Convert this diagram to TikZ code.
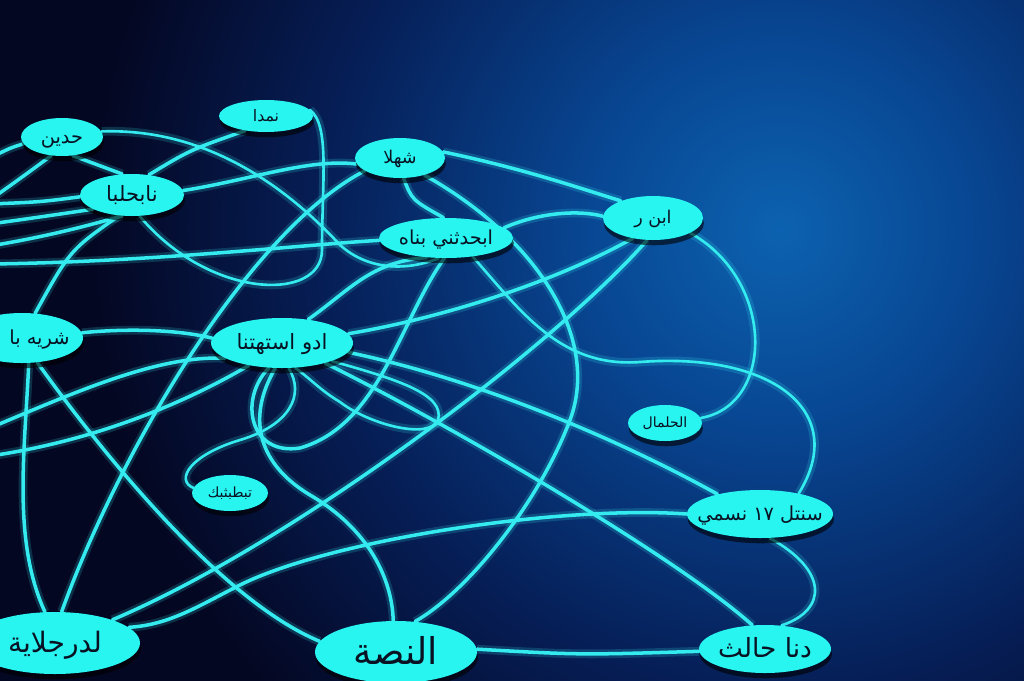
\documentclass[tikz,border=0pt]{standalone}
\usepackage{fontspec}
\usetikzlibrary{shapes.geometric,shadows}
\newfontfamily\arabicfont[Script=Arabic]{DejaVu Sans}
\TeXXeTstate=1

\definecolor{bgdeep}{RGB}{4,7,34}
\definecolor{bgmid}{RGB}{6,30,86}
\definecolor{glowA}{RGB}{12,98,176}
\definecolor{glowB}{RGB}{8,70,146}
\definecolor{nodecyan}{RGB}{40,244,240}
\definecolor{linkcyan}{RGB}{52,236,240}
\definecolor{inkdark}{RGB}{8,18,34}

\pgfdeclarelayer{back}
\pgfdeclarelayer{links}
\pgfsetlayers{back,links,main}
\pgfdeclareradialshading{glowshade}{\pgfpoint{0bp}{0bp}}{color(0bp)=(glowA); color(6bp)=(glowB); color(14bp)=(bgmid); color(21bp)=(bgdeep); color(25bp)=(bgdeep); color(50bp)=(bgdeep)}

\newcommand{\arlabel}[1]{\makebox[0pt]{\raisebox{-0.6ex}[0pt][0pt]{\beginR#1\endR}}}

\tikzset{
  topic/.style={ellipse, fill=nodecyan, inner sep=0pt, text=inkdark,
    drop shadow={shadow xshift=0.5pt, shadow yshift=-3pt, opacity=0.6, fill=black}},
  oval/.style 2 args={minimum width=#1*0.02cm, minimum height=#2*0.02cm},
  fs/.style={font=\arabicfont\fontsize{#1}{#1}\selectfont},
  link/.style={draw=linkcyan, line width=2pt, line cap=round,
    preaction={draw=linkcyan, line width=5pt, opacity=0.18}},
  thin link/.style={link, line width=1.5pt}
}

\begin{document}
\begin{tikzpicture}[x=0.02cm, y=0.02cm]
    \useasboundingbox (0,-680) rectangle (1024,0);

    % background
    \begin{pgfonlayer}{back}
        \fill[bgdeep] (-20,-700) rectangle (1044,20);
        \begin{scope}
            \clip (-20,-700) rectangle (1044,20);
            \shade[shading=glowshade] (780,-230) circle (820);
        \end{scope}
    \end{pgfonlayer}

    % topics
    \node[topic, oval={82}{38},  fs=11] (hadin)    at (62,-137)  {\arlabel{حدين}};
    \node[topic, oval={94}{32},  fs=9]  (namda)    at (266,-116) {\arlabel{نمدا}};
    \node[topic, oval={104}{42}, fs=12] (thalm)    at (132,-195) {\arlabel{نابحلبا}};
    \node[topic, oval={90}{40},  fs=10] (shahla)   at (400,-158) {\arlabel{شهلا}};
    \node[topic, oval={134}{40}, fs=11] (abhad)    at (446,-238) {\arlabel{ابحدثني بناه}};
    \node[topic, oval={100}{44}, fs=10] (ibnr)     at (653,-218) {\arlabel{ابن ر}};
    \node[topic, oval={122}{50}, fs=11] (shariyah) at (22,-338)  {\makebox[0pt]{\hspace{0.7cm}\arlabel{شريه با}}};
    \node[topic, oval={142}{50}, fs=12] (adu)      at (282,-343) {\arlabel{ادو استهتنا}};
    \node[topic, oval={74}{36},  fs=8]  (halmal)   at (665,-423) {\arlabel{الحلمال}};
    \node[topic, oval={76}{36},  fs=8]  (tabtab)   at (230,-493) {\arlabel{تبطبثبك}};
    \node[topic, oval={146}{48}, fs=11] (sanatl)   at (760,-514) {\arlabel{سنتل \beginL١٧\endL{} نسمي}};
    \node[topic, oval={170}{62}, fs=16] (darjal)   at (55,-643)  {\arlabel{لدرجلاية}};
    \node[topic, oval={162}{62}, fs=21] (nassa)    at (396,-652) {\arlabel{النصة}};
    \node[topic, oval={132}{48}, fs=15] (dana)     at (765,-649) {\arlabel{دنا حالث}};

    % loose ends beyond the left border
    \coordinate (w1) at (-10,-158);
    \coordinate (w2) at (-10,-200);
    \coordinate (w3) at (-10,-204);
    \coordinate (w4) at (-10,-224);
    \coordinate (w5) at (-10,-246);
    \coordinate (w6) at (-10,-264);
    \coordinate (w7) at (-10,-428);
    \coordinate (w8) at (-10,-456);

    % links
    \begin{pgfonlayer}{links}
        \path[link] (hadin.190) .. controls (10,-148) .. (w1);
        \path[link] (hadin.240) .. controls (25,-175) .. (w2);
        \path[link] (hadin.-60) -- (thalm.115);
        \path[thin link] (hadin.8) .. controls (200,-128) and (280,-180) .. (340,-245)
            .. controls (370,-272) and (410,-270) .. (abhad.250);
        \path[link] (w3) .. controls (40,-202) .. (thalm.182);
        \path[link] (w4) .. controls (40,-217) .. (thalm.200);
        \path[link] (w5) .. controls (50,-236) and (90,-225) .. (thalm.245);
        \path[link] (w6) .. controls (150,-262) and (300,-245) .. (abhad.182);
        \path[link] (thalm.5) .. controls (250,-180) and (310,-158) .. (shahla.188);
        \path[link] (thalm.50) .. controls (190,-150) .. (namda.215);
        \path[thin link] (namda.8) .. controls (330,-125) and (322,-180) .. (322,-250)
            .. controls (322,-302) and (210,-300) .. (thalm.-70);
        \path[link] (thalm.238) .. controls (70,-250) .. (shariyah.62);
        \path[link] (shahla.200) .. controls (250,-230) and (120,-450) .. (darjal.78);
        \path[link] (shahla.-80) .. controls (412,-200) .. (abhad.97);
        \path[link] (shahla.8) .. controls (520,-168) and (570,-185) .. (ibnr.152);
        \path[link] (shahla.-35) .. controls (540,-240) and (600,-340) .. (570,-420)
            .. controls (540,-500) and (470,-590) .. (nassa.58);
        \path[link] (abhad.10) .. controls (540,-212) and (580,-210) .. (ibnr.178);
        \path[link] (adu.42) .. controls (350,-290) and (370,-262) .. (abhad.225);
        \path[link] (abhad.-95) .. controls (400,-320) and (380,-425) .. (300,-448)
            .. controls (250,-456) and (238,-400) .. (adu.-118);
        \path[link] (ibnr.-135) .. controls (540,-290) and (420,-322) .. (adu.8);
        \path[link] (ibnr.-105) .. controls (560,-340) and (300,-540) .. (darjal.22);
        \path[thin link] (ibnr.-22) .. controls (775,-280) and (775,-405) .. (halmal.8);
        \path[thin link] (abhad.-35) .. controls (520,-310) and (560,-368) .. (640,-362)
            .. controls (770,-352) and (850,-410) .. (sanatl.28);
        \path[link] (adu.-8) .. controls (480,-380) and (620,-440) .. (sanatl.155);
        \path[link] (adu.-25) .. controls (460,-430) and (680,-560) .. (dana.118);
        \path[link] (sanatl.180) .. controls (560,-505) and (330,-540) .. (240,-585)
            .. controls (200,-605) and (170,-625) .. (darjal.12);
        \path[thin link] (sanatl.-68) .. controls (828,-570) and (828,-610) .. (dana.55);
        \path[link] (nassa.2) .. controls (580,-655) .. (dana.182);
        \path[link] (shariyah.5) .. controls (130,-328) and (180,-330) .. (adu.176);
        \path[link] (shariyah.-75) .. controls (25,-450) and (12,-540) .. (darjal.108);
        \path[link] (shariyah.-58) .. controls (100,-450) and (220,-600) .. (nassa.172);
        \path[link] (adu.-105) .. controls (245,-420) and (260,-465) .. (310,-495)
            .. controls (370,-530) and (392,-580) .. (nassa.95);
        \path[thin link] (adu.-75) .. controls (305,-395) and (290,-425) .. (240,-440)
            .. controls (190,-455) and (175,-480) .. (tabtab.172);
        \path[link] (w7) .. controls (80,-390) and (160,-355) .. (adu.195);
        \path[link] (w8) .. controls (100,-440) and (190,-400) .. (adu.214);
        \path[thin link] (adu.-20) .. controls (400,-380) and (445,-395) .. (438,-420)
            .. controls (430,-440) and (370,-425) .. (340,-402)
            .. controls (320,-390) and (312,-380) .. (adu.-62);
    \end{pgfonlayer}
\end{tikzpicture}
\end{document}
